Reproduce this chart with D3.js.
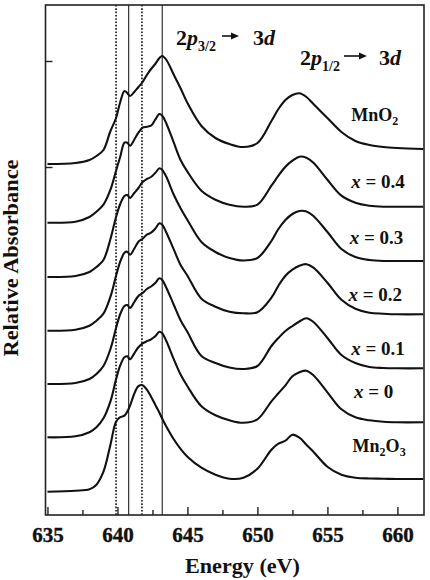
<!DOCTYPE html>
<html>
<head>
<meta charset="utf-8">
<script src="https://cdn.jsdelivr.net/npm/d3@7"></script>
<style>
  body { margin: 0; background: #fff; }
  svg { display: block; font-family: "Liberation Serif", "Times New Roman", serif; font-weight: bold; }
</style>
</head>
<body>
<svg id="chart" width="430" height="580"></svg>
<script>
// Photon energy grid (eV) shared by all spectra
const energy = [635, 637, 638, 638.5, 639, 639.5, 639.9, 640.2, 640.5, 640.7,
  640.9, 641.2, 641.5, 641.8, 642.1, 642.4, 642.7, 643.0, 643.2, 643.5,
  644, 644.5, 645, 646, 647, 648, 649, 650, 651, 651.5,
  652, 652.5, 653, 653.5, 654, 655, 656, 657, 658, 659,
  660, 661.85];

// Absorbance above each spectrum's own baseline (arb. units)
const mnO2 = [0, 0.01, 0.04, 0.08, 0.14, 0.33, 0.46, 0.62, 0.73, 0.71,
  0.68, 0.72, 0.77, 0.82, 0.89, 0.95, 1.00, 1.06, 1.08, 1.04,
  0.90, 0.76, 0.61, 0.38, 0.26, 0.20, 0.17, 0.21, 0.43, 0.55,
  0.64, 0.69, 0.707, 0.67, 0.60, 0.46, 0.32, 0.23, 0.19, 0.17,
  0.16, 0.15];
const x04 = [0, 0.01, 0.057, 0.11, 0.18, 0.33, 0.52, 0.66, 0.80, 0.80,
  0.77, 0.83, 0.90, 0.95, 0.96, 0.97, 1.03, 1.087, 1.07, 0.99,
  0.81, 0.63, 0.51, 0.32, 0.23, 0.18, 0.16, 0.18, 0.37, 0.47,
  0.56, 0.62, 0.66, 0.65, 0.60, 0.43, 0.27, 0.20, 0.17, 0.16,
  0.16, 0.16];
const x03 = [0, 0.01, 0.05, 0.10, 0.17, 0.38, 0.60, 0.73, 0.81, 0.82,
  0.79, 0.84, 0.89, 0.95, 0.98, 1.00, 1.04, 1.087, 1.07, 1.00,
  0.83, 0.69, 0.57, 0.35, 0.25, 0.19, 0.165, 0.19, 0.36, 0.48,
  0.57, 0.63, 0.66, 0.655, 0.61, 0.45, 0.28, 0.20, 0.17, 0.16,
  0.16, 0.16];
const x02 = [0, 0.01, 0.05, 0.10, 0.17, 0.34, 0.55, 0.69, 0.78, 0.79,
  0.76, 0.82, 0.89, 0.92, 0.96, 0.98, 1.02, 1.074, 1.06, 0.98,
  0.82, 0.66, 0.55, 0.32, 0.24, 0.19, 0.174, 0.185, 0.33, 0.45,
  0.55, 0.61, 0.65, 0.665, 0.63, 0.48, 0.31, 0.22, 0.18, 0.17,
  0.164, 0.164];
const x01 = [0, 0.01, 0.05, 0.10, 0.18, 0.35, 0.56, 0.70, 0.78, 0.79,
  0.76, 0.82, 0.88, 0.91, 0.95, 0.975, 1.01, 1.057, 1.04, 0.96,
  0.80, 0.64, 0.52, 0.28, 0.21, 0.165, 0.15, 0.18, 0.38, 0.46,
  0.53, 0.58, 0.625, 0.657, 0.62, 0.46, 0.29, 0.21, 0.17, 0.16,
  0.157, 0.157];
const x00 = [0, 0.01, 0.05, 0.10, 0.19, 0.36, 0.58, 0.72, 0.80, 0.81,
  0.78, 0.84, 0.90, 0.94, 0.96, 0.98, 1.01, 1.056, 1.04, 0.96,
  0.79, 0.63, 0.51, 0.31, 0.22, 0.17, 0.145, 0.18, 0.36, 0.44,
  0.52, 0.61, 0.65, 0.666, 0.62, 0.45, 0.28, 0.20, 0.17, 0.155,
  0.15, 0.15];
const mn2O3 = [0, 0.01, 0.024, 0.07, 0.20, 0.47, 0.70, 0.745, 0.76, 0.80,
  0.86, 0.98, 1.055, 1.065, 1.02, 0.95, 0.87, 0.79, 0.73, 0.65,
  0.53, 0.43, 0.35, 0.24, 0.17, 0.13, 0.14, 0.23, 0.42, 0.48,
  0.51, 0.57, 0.54, 0.47, 0.40, 0.25, 0.17, 0.14, 0.132, 0.13,
  0.127, 0.127];

// Vertical offsets used to stack the spectra
const offsets = [3.51, 2.923, 2.38, 1.843, 1.31, 0.777, 0.233];
const seriesValues = [mnO2, x04, x03, x02, x01, x00, mn2O3];
const sampleNames = ["MnO2", "x = 0.4", "x = 0.3", "x = 0.2", "x = 0.1", "x = 0", "Mn2O3"];

// Marker lines (eV)
const dottedLines = [639.9, 641.75];
const solidLines = [640.8, 643.2];

// Axis ticks
const xMajorTicks = [635, 640, 645, 650, 655, 660];
const xMinorTicks = [637.5, 642.5, 647.5, 652.5, 657.5];
const yTicks = [3.48, 4.54];

const svg = d3.select("#chart");
const plotLeft = 45.5, plotRight = 424, plotTop = 5, plotBottom = 515;

const x = d3.scaleLinear().domain([634.86, 661.9]).range([plotLeft, plotRight]);
const y = d3.scaleLinear().domain([0, 5.1]).range([plotBottom, plotTop]);

// Marker lines
svg.selectAll("line.dot").data(dottedLines).join("line")
  .attr("class", "dot")
  .attr("x1", d => x(d)).attr("x2", d => x(d))
  .attr("y1", plotTop).attr("y2", plotBottom)
  .attr("stroke", "#111").attr("stroke-width", 1.6)
  .attr("stroke-dasharray", "1.6,1.7");
svg.selectAll("line.solid").data(solidLines).join("line")
  .attr("class", "solid")
  .attr("x1", d => x(d)).attr("x2", d => x(d))
  .attr("y1", plotTop).attr("y2", plotBottom)
  .attr("stroke", "#333").attr("stroke-width", 1.2);

// Spectra
const line = d3.line()
  .x(d => x(d[0]))
  .y(d => y(d[1]))
  .curve(d3.curveCatmullRom.alpha(0.5));

seriesValues.forEach((vals, i) => {
  const pts = energy.map((e, k) => [e, vals[k] + offsets[i]]);
  svg.append("path")
    .datum(pts)
    .attr("fill", "none")
    .attr("stroke", "#111")
    .attr("stroke-width", 2.1)
    .attr("stroke-linejoin", "round")
    .attr("d", line);
});

// Axes
const xAxis = svg.append("g").attr("transform", `translate(0,${plotBottom})`)
  .call(d3.axisBottom(x).tickValues(xMajorTicks).tickSizeInner(-8).tickSizeOuter(0).tickPadding(12));
xAxis.select(".domain").remove();
xAxis.selectAll("line").attr("stroke", "#222").attr("stroke-width", 1.4);
xAxis.selectAll("text")
  .style("font-family", "'Liberation Serif', 'Times New Roman', serif")
  .style("font-weight", "bold")
  .style("font-size", "21px")
  .attr("fill", "#111")
  .attr("stroke", "#111").attr("stroke-width", 0.4);

const xMinor = svg.append("g").attr("transform", `translate(0,${plotBottom})`)
  .call(d3.axisBottom(x).tickValues(xMinorTicks).tickSizeInner(-5).tickSizeOuter(0).tickFormat(""));
xMinor.select(".domain").remove();
xMinor.selectAll("line").attr("stroke", "#222").attr("stroke-width", 1.4);

const yAxis = svg.append("g").attr("transform", `translate(${plotLeft},0)`)
  .call(d3.axisLeft(y).tickValues(yTicks).tickSizeInner(-7).tickSizeOuter(0).tickFormat(""));
yAxis.select(".domain").remove();
yAxis.selectAll("line").attr("stroke", "#222").attr("stroke-width", 1.4);

// Frame
svg.append("rect")
  .attr("x", plotLeft).attr("y", plotTop)
  .attr("width", plotRight - plotLeft).attr("height", plotBottom - plotTop)
  .attr("fill", "none").attr("stroke", "#222").attr("stroke-width", 1.6);

// Axis titles
svg.append("text")
  .attr("x", 242.5).attr("y", 573)
  .attr("text-anchor", "middle")
  .attr("font-size", 21)
  .attr("fill", "#111")
  .attr("textLength", 115).attr("lengthAdjust", "spacingAndGlyphs")
  .text("Energy (eV)");

svg.append("text")
  .attr("transform", "translate(18,258) rotate(-90)")
  .attr("text-anchor", "middle")
  .attr("font-size", 20)
  .attr("fill", "#111")
  .attr("textLength", 197).attr("lengthAdjust", "spacingAndGlyphs")
  .text("Relative Absorbance");

// Transition annotations
function transition(xp, yb, sub, arrowX1, arrowX2, dX) {
  const t = svg.append("text").attr("x", xp).attr("y", yb).attr("font-size", 22).attr("fill", "#111");
  t.append("tspan").text("2");
  t.append("tspan").attr("font-style", "italic").text("p");
  t.append("tspan").attr("font-size", 14).attr("dy", 6).text(sub);
  svg.append("line")
    .attr("x1", arrowX1).attr("x2", arrowX2 - 6)
    .attr("y1", yb - 9).attr("y2", yb - 9)
    .attr("stroke", "#111").attr("stroke-width", 1.6);
  svg.append("path")
    .attr("d", `M${arrowX2},${yb - 9} L${arrowX2 - 8},${yb - 12.5} L${arrowX2 - 8},${yb - 5.5} Z`)
    .attr("fill", "#111");
  const t2 = svg.append("text").attr("x", dX).attr("y", yb).attr("font-size", 22).attr("fill", "#111");
  t2.append("tspan").text("3");
  t2.append("tspan").attr("font-style", "italic").text("d");
}
transition(176, 45, "3/2", 222, 239, 253);
transition(300, 65, "1/2", 344, 367, 379);

// Sample labels, anchored in data space
const labelAnchors = [[656.7, 3.90], [656.7, 3.267], [656.6, 2.71], [656.5, 2.143],
  [656.7, 1.60], [656.9, 1.167], [656.8, 0.593]];

sampleNames.forEach((name, i) => {
  const t = svg.append("text")
    .attr("x", x(labelAnchors[i][0]))
    .attr("y", y(labelAnchors[i][1]))
    .attr("fill", "#111");
  if (name.startsWith("x")) {
    t.attr("font-size", 19);
    t.append("tspan").attr("font-style", "italic").text("x");
    t.append("tspan").text(name.slice(1));
  } else {
    // chemical formula with subscripts
    t.attr("font-size", 18);
    name.split(/(\d)/).filter(s => s).forEach(part => {
      if (/\d/.test(part)) {
        t.append("tspan").attr("font-size", 12).attr("dy", 4).text(part);
      } else {
        t.append("tspan").attr("dy", t.selectAll("tspan").size() ? -4 : 0).text(part);
      }
    });
  }
});
</script>
</body>
</html>
